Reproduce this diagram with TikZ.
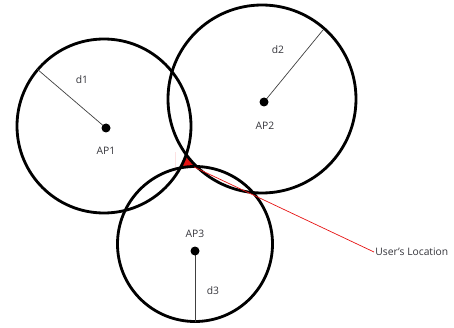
\documentclass[tikz,border=0pt]{standalone}
\usepackage{fontspec}
\setmainfont{Open Sans}
\usepackage{tikz}
\usetikzlibrary{positioning}
\definecolor{apText}{RGB}{52,52,58}
\definecolor{apRed}{RGB}{230,20,20}

\tikzset{
    rangecircle/.style={black, line width=2.4pt},
    radius line/.style={black!75, line width=0.6pt},
    lbl/.style={text=apText, font=\fontsize{8.8}{10}\selectfont, inner sep=1pt}
}

\begin{document}
\begin{tikzpicture}[x=0.3mm,y=0.3mm]
    \useasboundingbox (0,0) rectangle (454,327);

    % key values
    \pgfmathsetmacro{\ra}{87}
    \pgfmathsetmacro{\rb}{94}
    \pgfmathsetmacro{\rc}{77.5}

    % circle centres and access points
    \coordinate (c1) at (104,201);
    \coordinate (c2) at (262,228);
    \coordinate (c3) at (195,83);
    \coordinate (ap1) at (106,199);
    \coordinate (ap2) at (264,225);
    \coordinate (ap3) at (195,76);

    % ends of the radii
    \coordinate (e1) at (37,258);
    \coordinate (e2) at (323,297);
    \coordinate (e3) at (195,5.5);
    \coordinate (user) at (194,160);

    % gap left between the three circles
    \begin{scope}[even odd rule]
        \clip (175,150) rectangle (205,175) (c1) circle (\ra);
        \clip (175,150) rectangle (205,175) (c2) circle (\rb);
        \clip (175,150) rectangle (205,175) (c3) circle (\rc);
        \fill[apRed] (175,150) rectangle (205,175);
    \end{scope}

    % range circles
    \draw[rangecircle] (c1) circle (\ra);
    \draw[rangecircle] (c2) circle (\rb);
    \draw[rangecircle] (c3) circle (\rc);

    % radii
    \draw[radius line] (ap1) -- (e1);
    \draw[radius line] (ap2) -- (e2);
    \draw[radius line, line width=0.8pt] (ap3) -- (e3);

    % access points
    \fill (ap1) circle (4.5);
    \fill (ap2) circle (4.5);
    \fill (ap3) circle (4.5);

    % labels
    \node[lbl] (n1) at (106,176) {AP1};
    \node[lbl] (n2) at (265,201) {AP2};
    \node[lbl] (n3) at (195,93) {AP3};
    \node[lbl] (d1) at (82,247) {d1};
    \node[lbl] (d2) at (278,277) {d2};
    \node[lbl] (d3) at (213,36) {d3};
    \node[lbl, anchor=west] (loc) at (374,75) {User's Location};

    % pointer to the location
    \draw[apRed, line width=0.6pt] (user) -- (loc.west);
\end{tikzpicture}
\end{document}
